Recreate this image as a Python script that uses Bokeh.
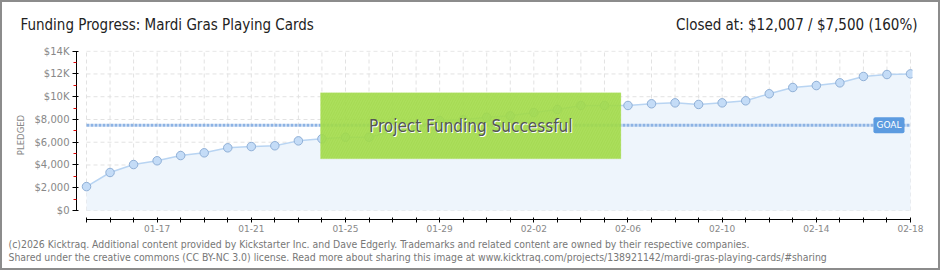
from bokeh.plotting import figure
from bokeh.layouts import column
from bokeh.models import Range1d, FixedTicker, BoxAnnotation, Label, InlineStyleSheet
from bokeh.embed import file_html
from bokeh.resources import INLINE

# ---- data ----
days = ["01-14", "01-15", "01-16", "01-17", "01-18", "01-19", "01-20", "01-21",
        "01-22", "01-23", "01-24", "01-25", "01-26", "01-27", "01-28", "01-29",
        "01-30", "01-31", "02-01", "02-02", "02-03", "02-04", "02-05", "02-06",
        "02-07", "02-08", "02-09", "02-10", "02-11", "02-12", "02-13", "02-14",
        "02-15", "02-16", "02-17", "02-18"]
pledged = [2100, 3340, 4040, 4370, 4830, 5070, 5510, 5620, 5690, 6120, 6300, 6440,
           6440, 6950, 7450, 7910, 7970, 8200, 8320, 8610, 8880, 9230, 9230, 9230,
           9380, 9460, 9320, 9460, 9640, 10260, 10810, 10980, 11220, 11780, 11950, 12007]
goal = 7500
y_ticks = [0, 2000, 4000, 6000, 8000, 10000, 12000, 14000]
y_minor = [1000, 3000, 5000, 7000, 9000, 11000, 13000]
y_tick_labels = ["$0", "$2,000", "$4,000", "$6,000", "$8,000", "$10K", "$12K", "$14K"]
x_label_days = ["01-17", "01-21", "01-25", "01-29", "02-02", "02-06", "02-10", "02-14", "02-18"]
success_days = (9.94, 22.7)          # span of "funded" banner (day index)
success_pledged = (4543, 10343)      # vertical span of banner

title_text = "Funding Progress: Mardi Gras Playing Cards"
closed_text = "Closed at: $12,007 / $7,500 (160%)"
footer1 = ("(c)2026 Kicktraq. Additional content provided by Kickstarter Inc. and Dave Edgerly. "
           "Trademarks and related content are owned by their respective companies.")
footer2 = ("Shared under the creative commons (CC BY-NC 3.0) license. Read more about sharing this "
           "image at www.kicktraq.com/projects/138921142/mardi-gras-playing-cards/#sharing")

x = list(range(len(days)))

W = 940
HEAD_H = 36
FOOT_H = 32
MAIN_H = 270 - HEAD_H - FOOT_H
PX_DAY = 23.54
PX_K = 11.38

# ---------- header ----------
head = figure(width=W, height=HEAD_H, output_backend="svg", toolbar_location=None,
              x_axis_type=None, y_axis_type=None, x_range=Range1d(0, W), y_range=Range1d(0, HEAD_H),
              min_border=0)
head.frame_align = False
head.outline_line_color = None
head.grid.visible = False
head.add_layout(Label(x=20, y=HEAD_H - 24, x_units="screen", y_units="screen",
                      text=title_text, text_align="left", text_baseline="middle",
                      text_color="#222222", text_font="DejaVu Sans Condensed",
                      text_font_size="15px"))
head.add_layout(Label(x=917, y=HEAD_H - 24, x_units="screen", y_units="screen",
                      text=closed_text, text_align="right", text_baseline="middle",
                      text_color="#222222", text_font="DejaVu Sans Condensed",
                      text_font_size="15px"))

# ---------- main chart ----------
p = figure(width=W, height=MAIN_H, output_backend="svg", toolbar_location=None,
           x_range=Range1d(x[0] - 10 / PX_DAY, x[-1] + 2 / PX_DAY),
           y_range=Range1d(-9 / PX_K * 1000, 14000 + 0.7 / PX_K * 1000),
           min_border_left=76, min_border_right=W - 912,
           min_border_top=50 - HEAD_H, min_border_bottom=(270 - FOOT_H) - 219)
p.frame_align = False
p.outline_line_color = None
p.grid.visible = False

p.segment(x0=x, y0=[y_ticks[0]] * len(x), x1=x, y1=[y_ticks[-1]] * len(x),
          line_color="#e2e2e2", line_dash="4 3", line_width=1)
p.segment(x0=[x[0]] * len(y_ticks), y0=y_ticks, x1=[x[-1]] * len(y_ticks), y1=y_ticks,
          line_color="#e2e2e2", line_dash="4 3", line_width=1)

p.varea(x=x, y1=[0] * len(x), y2=pledged, fill_color="#eef5fc")
p.line(x, pledged, line_color="#b8d4f2", line_width=1.5)
p.line([x[0], x[-1]], [goal, goal], line_color="#8db3e4", line_width=3, line_dash="3 1")
p.scatter(x, pledged, size=8.5, fill_color="#c4dcf7", line_color="#8fafd6", line_width=1)

xa = p.xaxis[0]
xa.ticker = FixedTicker(ticks=x)
xa.major_label_overrides = {i: (d if d in x_label_days else "") for i, d in zip(x, days)}
xa.bounds = (x[0], x[-1])
xa.axis_line_color = "black"
xa.major_tick_line_color = "black"
xa.major_tick_in = 2
xa.major_tick_out = 3
xa.minor_tick_line_color = None
xa.major_label_text_font = "DejaVu Sans"
xa.major_label_text_font_size = "9px"
xa.major_label_text_color = "#888888"
xa.major_label_standoff = 2

ya = p.yaxis[0]
ya.ticker = FixedTicker(ticks=y_ticks, minor_ticks=y_minor)
ya.major_label_overrides = {t: l for t, l in zip(y_ticks, y_tick_labels)}
ya.bounds = (y_ticks[0], y_ticks[-1])
ya.axis_line_color = "black"
ya.major_tick_line_color = "black"
ya.major_tick_in = 2
ya.major_tick_out = 4
ya.minor_tick_line_color = "#e00000"
ya.minor_tick_in = 0
ya.minor_tick_out = 3
ya.major_label_text_font = "DejaVu Sans"
ya.major_label_text_font_size = "10px"
ya.major_label_text_color = "#888888"
ya.major_label_standoff = 3
ya.axis_label = "PLEDGED"
ya.axis_label_text_font = "DejaVu Sans"
ya.axis_label_text_font_size = "8.5px"
ya.axis_label_text_font_style = "normal"
ya.axis_label_text_color = "#888888"
ya.axis_label_standoff = 6

p.add_layout(Label(x=x[-1], y=goal, x_offset=-6, text="GOAL", text_align="right",
                   text_baseline="middle", text_color="white", text_font="DejaVu Sans",
                   text_font_size="9px", background_fill_color="#5c9be0",
                   padding=3, border_radius=2))

p.add_layout(BoxAnnotation(left=success_days[0], right=success_days[1],
                           bottom=success_pledged[0], top=success_pledged[1],
                           fill_color="#a3db4a", fill_alpha=0.9,
                           line_color="#b9e676", line_width=1,
                           hatch_pattern="/", hatch_color="#98d040", hatch_alpha=0.35,
                           hatch_scale=5))
cx = (success_days[0] + success_days[1]) / 2
cy = (success_pledged[0] + success_pledged[1]) / 2
banner = "Project Funding Successful"
p.add_layout(Label(x=cx, y=cy, x_offset=1, y_offset=-1, text=banner, text_align="center",
                   text_baseline="middle", text_color="white",
                   text_font="DejaVu Sans Condensed", text_font_size="17px"))
p.add_layout(Label(x=cx, y=cy, text=banner, text_align="center",
                   text_baseline="middle", text_color="#555555",
                   text_font="DejaVu Sans Condensed", text_font_size="17px"))

# ---------- footer ----------
foot = figure(width=W, height=FOOT_H, output_backend="svg", toolbar_location=None,
              x_axis_type=None, y_axis_type=None, x_range=Range1d(0, W), y_range=Range1d(0, FOOT_H),
              min_border=0)
foot.frame_align = False
foot.outline_line_color = None
foot.grid.visible = False
foot.add_layout(Label(x=8, y=FOOT_H - (243 - (270 - FOOT_H)), x_units="screen", y_units="screen",
                      text=footer1, text_align="left", text_baseline="middle",
                      text_color="#777777", text_font="DejaVu Sans Condensed",
                      text_font_size="10.4px"))
foot.add_layout(Label(x=8, y=FOOT_H - (256 - (270 - FOOT_H)), x_units="screen", y_units="screen",
                      text=footer2, text_align="left", text_baseline="middle",
                      text_color="#777777", text_font="DejaVu Sans Condensed",
                      text_font_size="10.4px"))

frame_css = InlineStyleSheet(css="""
:host { position: relative; }
:host::after { content: ""; position: absolute; left: 0; top: 0; right: 0; bottom: 0;
  border: 2px solid #8c8c8c; box-sizing: border-box; pointer-events: none; z-index: 100; }
""")
layout = column(head, p, foot, spacing=0, stylesheets=[frame_css])

open("out.html", "w").write(file_html(layout, INLINE))
